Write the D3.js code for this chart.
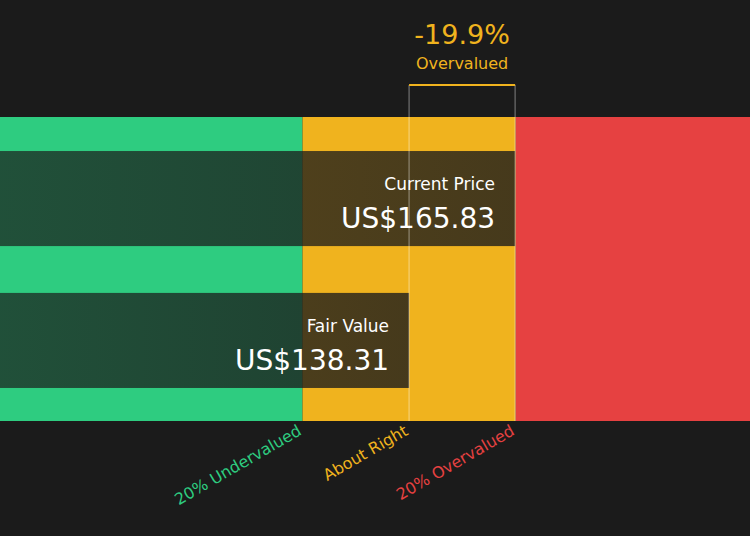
<!DOCTYPE html>
<html><head><meta charset="utf-8">
<script src="https://cdn.jsdelivr.net/npm/d3@7"></script>
<style>body{margin:0;background:#1b1b1b}svg{display:block}text{font-family:"DejaVu Sans",sans-serif}</style>
</head><body><svg id="c" width="750" height="536"></svg>
<script>
const currentPrice = 165.83;
const fairValue = 138.31;
const currency = "US$";
const zoneLabels = ["20% Undervalued", "About Right", "20% Overvalued"];
const zoneColors = ["#2ecc80", "#f0b31e", "#e64141"];
const barLabels = ["Current Price", "Fair Value"];
const barValues = [currentPrice, fairValue];

const W = 750, H = 536;
const svg = d3.select("#c");
svg.append("rect").attr("width", W).attr("height", H).attr("fill", "#1b1b1b");
const x = d3.scaleLinear().domain([32.13, 226.8]).range([0, W]);
const lo = fairValue * 0.8, hi = fairValue * 1.2;
const bandTop = 117, bandBot = 421;
const zones = [[x.domain()[0], lo], [lo, hi], [hi, x.domain()[1]]];
zones.forEach((z, i) => svg.append("rect").attr("x", x(z[0])).attr("y", bandTop)
  .attr("width", x(z[1]) - x(z[0])).attr("height", bandBot - bandTop).attr("fill", zoneColors[i]));

const defs = svg.append("defs");
const g = defs.append("linearGradient").attr("id", "gr");
g.append("stop").attr("offset", "0").attr("stop-color", "#1b1b1b").attr("stop-opacity", 0.7);
g.append("stop").attr("offset", "1").attr("stop-color", "#1b1b1b").attr("stop-opacity", 0.8);

const y = d3.scaleBand().domain(barLabels).range([134, 405]).paddingInner(0.33).paddingOuter(0.12);
barLabels.forEach((l, i) => {
  const v = barValues[i], xe = x(v), y0 = y(l), bh = y.bandwidth();
  svg.append("rect").attr("x", 0).attr("y", y0).attr("width", xe).attr("height", bh).attr("fill", "url(#gr)");
  svg.append("text").attr("x", xe - 20).attr("y", y0 + 39).attr("text-anchor", "end")
    .attr("fill", "#fff").attr("font-size", 17).text(l);
  svg.append("text").attr("x", xe - 20).attr("y", y0 + 77).attr("text-anchor", "end")
    .attr("fill", "#fff").attr("font-size", 28).text(currency + v.toFixed(2));
});

const xa = x(fairValue), xb = x(currentPrice);
[xa, xb].forEach(v => svg.append("line").attr("x1", v).attr("x2", v).attr("y1", 85).attr("y2", bandBot)
  .attr("stroke", "#ffffff").attr("stroke-opacity", 0.45).attr("stroke-width", 1));
svg.append("line").attr("x1", xa).attr("x2", xb).attr("y1", 85).attr("y2", 85)
  .attr("stroke", "#f0b31e").attr("stroke-width", 2);
const pct = (fairValue - currentPrice) / fairValue * 100;
svg.append("text").attr("x", (xa + xb) / 2).attr("y", 44).attr("text-anchor", "middle")
  .attr("fill", "#f0b31e").attr("font-size", 27).text(pct.toFixed(1) + "%");
svg.append("text").attr("x", (xa + xb) / 2).attr("y", 69).attr("text-anchor", "middle")
  .attr("fill", "#f0b31e").attr("font-size", 16).text(pct < 0 ? "Overvalued" : "Undervalued");

[lo, fairValue, hi].forEach((v, i) => svg.append("text")
  .attr("transform", `translate(${x(v)},${434}) rotate(-30)`).attr("text-anchor", "end")
  .attr("fill", zoneColors[i]).attr("font-size", 16).text(zoneLabels[i]));
</script></body></html>
